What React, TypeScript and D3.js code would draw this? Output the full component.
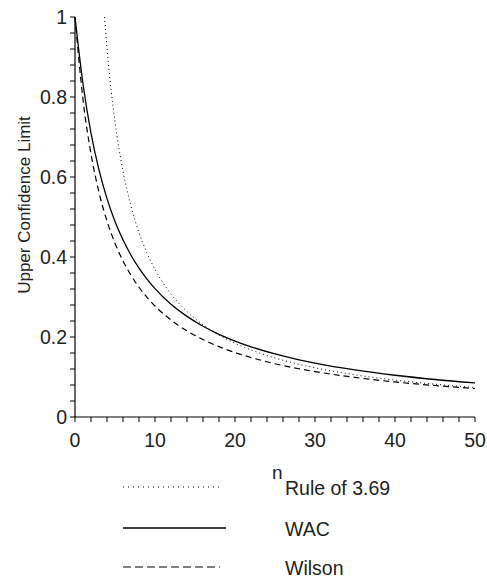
import React from "react";
import * as d3 from "d3";

// Sample sizes n (x values)
const nValues = [0, 1, 2, 3, 4, 5, 6, 7, 8, 9, 10, 12, 14, 16, 18, 20, 22, 25, 28, 30, 35, 40, 45, 50];
const wacValues = [1.0, 0.8325, 0.7098, 0.6176, 0.5459, 0.489, 0.4429, 0.4045, 0.3722, 0.3447, 0.3209, 0.2819, 0.2515, 0.2269, 0.2067, 0.1898, 0.1755, 0.1576, 0.143, 0.1347, 0.1176, 0.1044, 0.0938, 0.0853];
const wilsonValues = [1.0, 0.7935, 0.6576, 0.5615, 0.4899, 0.4345, 0.3903, 0.3543, 0.3244, 0.2992, 0.2775, 0.2425, 0.2153, 0.1936, 0.1759, 0.1611, 0.1487, 0.1332, 0.1206, 0.1135, 0.0989, 0.0876, 0.0787, 0.0713];
const ruleN = [3.69, 4, 4.5, 5, 6, 7, 8, 9, 10, 12, 14, 16, 18, 20, 22, 25, 28, 30, 35, 40, 45, 50];
const ruleValues = [1.0, 0.9225, 0.82, 0.738, 0.615, 0.527, 0.461, 0.41, 0.369, 0.3075, 0.2636, 0.2306, 0.205, 0.1845, 0.1677, 0.1476, 0.1318, 0.123, 0.1054, 0.0923, 0.082, 0.0738];

const xTickLabels = [0, 10, 20, 30, 40, 50];
const yTickLabels = [0, 0.2, 0.4, 0.6, 0.8, 1];
const legendLabels = ["Rule of 3.69", "WAC", "Wilson"];

const W = 487;
const H = 579;
const FONT = "'Liberation Sans', Arial, sans-serif";

export default function App() {
  const x = d3.scaleLinear().domain([0, 50]).range([75, 475]);
  const y = d3.scaleLinear().domain([0, 1]).range([417, 17]);

  const line = d3
    .line<[number, number]>()
    .x((d) => x(d[0]))
    .y((d) => y(d[1]))
    .curve(d3.curveMonotoneX);

  const wac = line(nValues.map((n, i) => [n, wacValues[i]] as [number, number])) || "";
  const wilson = line(nValues.map((n, i) => [n, wilsonValues[i]] as [number, number])) || "";
  const rule = line(ruleN.map((n, i) => [n, ruleValues[i]] as [number, number])) || "";

  const xMinor = d3.range(0, 51, 2);
  const yMinor = d3.range(0, 26).map((i) => i * 0.04);

  const fmt = (v: number) => (v === 0 || v === 1 ? String(v) : v.toFixed(1));

  const legendY = [487, 528, 567];
  const legendDash = ["1,4", "", "8,4"];
  const legendX2 = [220, 226, 220];

  return (
    <svg
      width={W}
      height={H}
      style={{ position: "absolute", left: 0, top: 0, background: "#fff" }}
      fontFamily={FONT}
    >
      <rect x={0} y={0} width={W} height={H} fill="#fff" />
      {/* axes */}
      <line x1={x(0)} x2={x(0)} y1={y(1)} y2={y(0)} stroke="#000" strokeWidth={1.2} />
      <line x1={x(0)} x2={x(50)} y1={y(0)} y2={y(0)} stroke="#000" strokeWidth={1.2} />
      {xMinor.map((t) => (
        <line key={"xt" + t} x1={x(t)} x2={x(t)} y1={y(0)} y2={y(0) + 5} stroke="#000" />
      ))}
      {yMinor.map((t, i) => (
        <line key={"yt" + i} x1={x(0) - 5} x2={x(0)} y1={y(t)} y2={y(t)} stroke="#000" />
      ))}
      {xTickLabels.map((t) => (
        <text key={"xl" + t} x={x(t)} y={y(0) + 30} textAnchor="middle" fontSize={19.5} fill="#222">
          {t}
        </text>
      ))}
      {yTickLabels.map((t) => (
        <text key={"yl" + t} x={x(0) - 8} y={y(t) + 7} textAnchor="end" fontSize={19.5} fill="#222">
          {fmt(t)}
        </text>
      ))}
      <text
        transform={`translate(30,205) rotate(-90)`}
        textAnchor="middle"
        fontSize={17}
        fill="#222"
      >
        Upper Confidence Limit
      </text>

      {/* curves */}
      <path d={rule} fill="none" stroke="#000" strokeWidth={1} strokeDasharray="1,3" />
      <path d={wac} fill="none" stroke="#000" strokeWidth={1.3} />
      <path d={wilson} fill="none" stroke="#000" strokeWidth={1.2} strokeDasharray="6,4" />

      {/* x label "n" */}
      <text x={272} y={479} fontSize={19} fill="#222">n</text>

      {/* legend */}
      {legendLabels.map((lab, i) => (
        <g key={lab}>
          <line
            x1={123}
            x2={legendX2[i]}
            y1={legendY[i]}
            y2={legendY[i]}
            stroke="#000"
            strokeWidth={i === 1 ? 1.4 : 1.2}
            strokeDasharray={legendDash[i] || undefined}
          />
          <text x={285} y={legendY[i] + 8} fontSize={19.5} fill="#222">
            {lab}
          </text>
        </g>
      ))}
    </svg>
  );
}
